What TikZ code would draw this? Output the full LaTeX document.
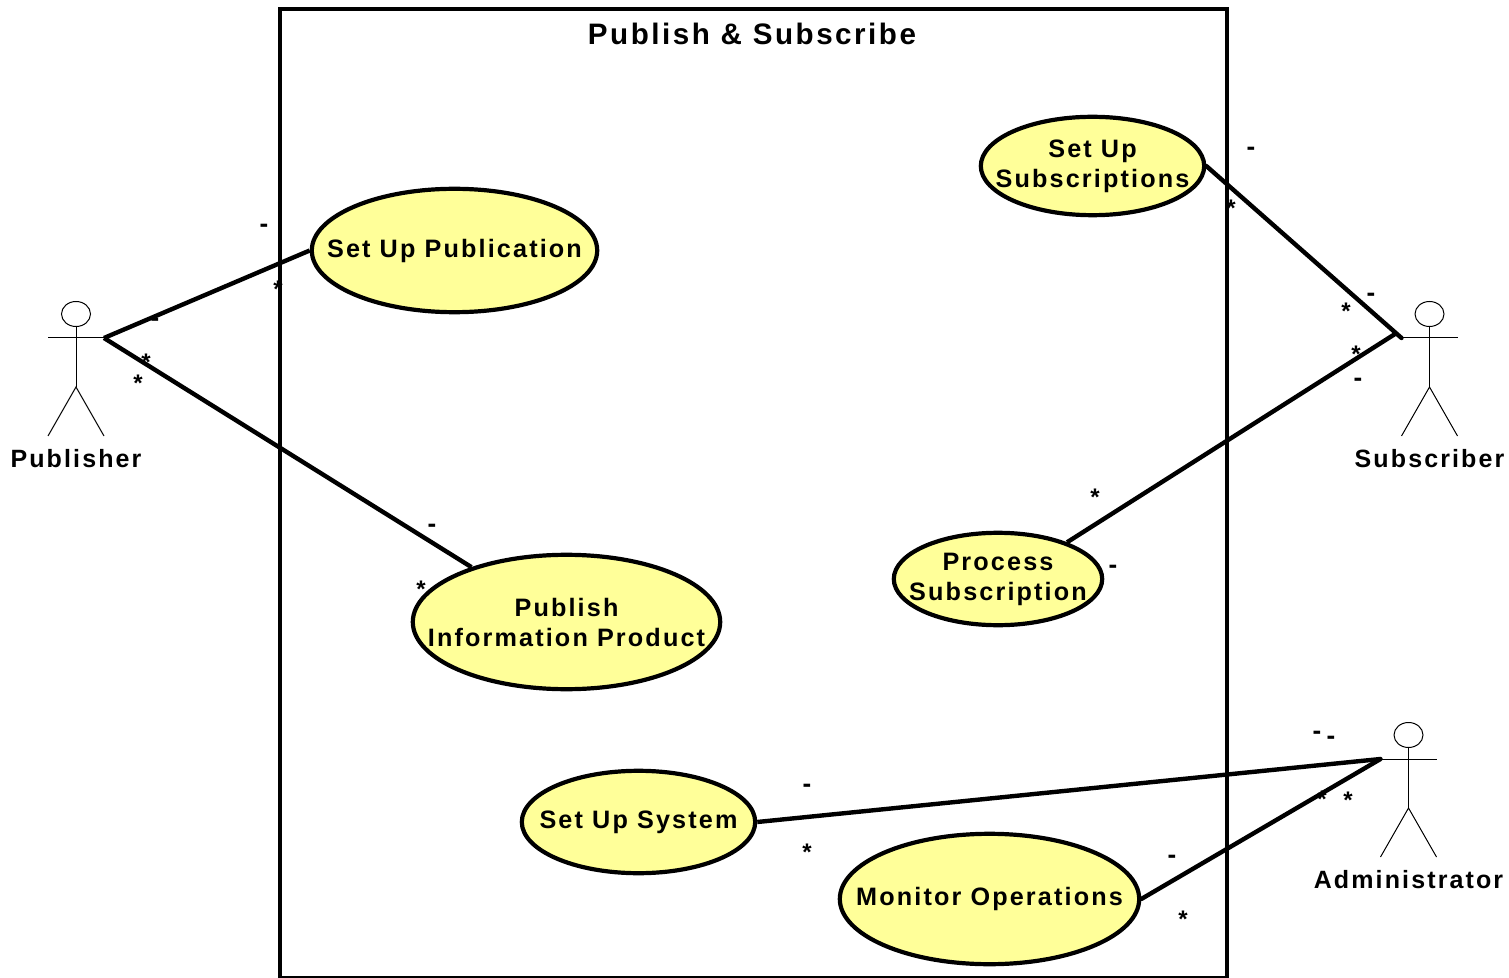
\documentclass[tikz,border=0pt]{standalone}
\usepackage{fontspec}
\setmainfont{Liberation Sans}
\newfontfamily\labelfont[LetterSpace=8.5]{Liberation Sans Bold}
\usetikzlibrary{shapes.geometric}
\definecolor{usecasefill}{HTML}{FFFF99}

\newcommand{\actor}[4]{%
	\begin{scope}[shift={(#2,#3)}]
		\node[actorhead] (#1) at (0,-24) {};
		\coordinate (#1lefthand) at (-28,0);
		\coordinate (#1righthand) at (28,0);
		\coordinate (#1hip) at (0,49);
		\draw[actorline] (#1) -- (#1hip);
		\draw[actorline] (#1lefthand) -- (#1righthand);
		\draw[actorline] (-28,98) -- (#1hip) -- (28,98);
		\node[actorlabel] (#1label) at (0,121) {#4};
	\end{scope}}

\begin{document}
\begin{tikzpicture}
	[ x=0.5pt, y=-0.5pt,
		usecase/.style={ellipse,draw,fill=usecasefill,line width=2.1pt,inner xsep=-45pt,inner ysep=-15pt,align=center,
			font=\labelfont\fontsize{12.6}{15}\selectfont,execute at begin node={\vspace*{2pt}}},
		actorhead/.style={ellipse,draw,line width=0.5pt,inner sep=0pt,minimum width=14.5pt,minimum height=12.5pt},
		actorline/.style={line width=0.5pt},
		actorlabel/.style={inner sep=0pt,font=\labelfont\fontsize{12.5}{15}\selectfont},
		assoc/.style={line width=2.2pt},
		multdash/.style={inner sep=0pt,font=\bfseries\fontsize{13}{15}\selectfont},
		multstar/.style={inner sep=0pt,font=\bfseries\fontsize{12}{14}\selectfont}]

	\useasboundingbox (0,0) rectangle (1509,978);

	% multiplicities go under the lines
	\foreach \x/\y [count=\i] in {264/228,155/322,432/528,1251/151,1371/297,1358/382,1113/569,807/788,1317/735,1331/740,1172/859}
		\node[multdash] (dash\i) at (\x,\y) {-};
	\foreach \x/\y [count=\i] in {278/289,146/362,138/383,421/589,1231/208,1346/311,1356/354,1095/497,807/852,1322/799,1348/800,1183/919}
		\node[multstar] (star\i) at (\x,\y) {*};

	\begin{scope}
		\clip (0,0) rectangle (1509,978);
		\draw[line width=2.1pt] (280,9) rectangle (1227,978);
	\end{scope}
	\node[inner sep=0pt,font=\labelfont\fontsize{14.8}{17}\selectfont] (title) at (752,34) {Publish \& Subscribe};

	\node[usecase,minimum width=142.7pt,minimum height=61.7pt] (publication) at (454.5,250.5) {Set Up Publication};
	\node[usecase,minimum width=153.7pt,minimum height=67.2pt] (product) at (566.5,622) {Publish\\Information Product};
	\node[usecase,minimum width=111.7pt,minimum height=49.2pt] (subscriptions) at (1092.5,166) {Set Up\\Subscriptions};
	\node[usecase,minimum width=104.2pt,minimum height=46.2pt] (processing) at (998,579) {Process\\Subscription};
	\node[usecase,minimum width=116.7pt,minimum height=51.2pt] (system) at (638.5,822) {Set Up System};
	\node[usecase,minimum width=149.7pt,minimum height=65.2pt] (operations) at (989.5,899) {Monitor Operations};

	\actor{publisher}{76}{338}{Publisher}
	\actor{subscriber}{1429.5}{338}{Subscriber}
	\actor{administrator}{1408.5}{759}{Administrator}
	\coordinate (subscribergrip) at (1395,334);

	\draw[assoc] (publisherrighthand) -- (publication.west);
	\draw[assoc] (publisherrighthand) -- (product.150);
	\draw[assoc,line cap=round] (subscriberlefthand) -- (subscriptions.east);
	\draw[assoc] (subscribergrip) -- (processing.28);
	\draw[assoc] (administratorlefthand) -- (system.east);
	\draw[assoc,line cap=round] (administratorlefthand) -- (operations.east);
\end{tikzpicture}
\end{document}
